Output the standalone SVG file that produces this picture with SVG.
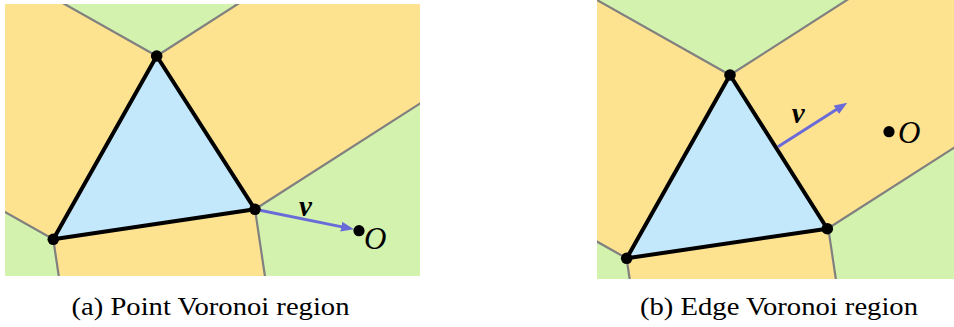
<svg xmlns="http://www.w3.org/2000/svg" width="954" height="327" viewBox="0 0 954 327">
<style>
.bg{fill:#fde28f}
.vreg{fill:#d3f2ad}
.vline{stroke:#808080;stroke-width:2.2;fill:none}
.tri{fill:#c3e8fc;stroke:#000;stroke-width:4;stroke-linejoin:round}
.dot{fill:#000}
.arrow{stroke:#6a6ad8;stroke-width:3;fill:none;marker-end:url(#ah)}
</style>
<defs>
<clipPath id="clipA"><rect x="5" y="4" width="415" height="272"/></clipPath>
<clipPath id="clipB"><rect x="597" y="0" width="357" height="279"/></clipPath>
<marker id="ah" markerUnits="userSpaceOnUse" viewBox="0 0 13 10" refX="2" refY="5" markerWidth="13" markerHeight="10" orient="auto">
<path d="M0,0 L13,5 L0,10 Z" fill="#6a6ad8"/>
</marker>
<g id="voronoi">
<rect class="bg" x="-700" y="-700" width="1600" height="1600"/>
<path class="vreg" d="M156.7,56 L-365.9,-238.6 L139,-560 L661.9,-268 Z"/>
<path class="vreg" d="M255,209.3 L760.2,-114.7 L1300,400 L343.2,802.7 Z"/>
<path class="vreg" d="M53.3,239.3 L-469.3,-55.3 L-600,600 L141.5,832.7 Z"/>
<path class="vline" d="M156.7,56 L-365.9,-238.6 M156.7,56 L661.9,-268 M255,209.3 L760.2,-114.7 M255,209.3 L343.2,802.7 M53.3,239.3 L-469.3,-55.3 M53.3,239.3 L141.5,832.7"/>
</g>
</defs>

<g id="panel-a">
<g id="regions-a" clip-path="url(#clipA)"><use href="#voronoi"/></g>
<g id="triangle-a"><path class="tri" d="M156.7,56 L53.3,239.3 L255,209.3 Z"/></g>
<g id="connectors-a"><path class="arrow" d="M255,209.3 L343.2,227.1"/></g>
<g id="vertex-a-top"><circle class="dot" cx="156.7" cy="56" r="5.8"/></g>
<g id="vertex-a-left"><circle class="dot" cx="53.3" cy="239.3" r="5.8"/></g>
<g id="vertex-a-right"><circle class="dot" cx="255" cy="209.3" r="5.8"/></g>
<g id="origin-a"><circle class="dot" cx="359" cy="230.7" r="5.6"/><text x="364" y="248.5" font-family="'Liberation Serif', 'Times New Roman', 'DejaVu Serif', serif" font-style="italic" font-size="31">O</text></g>
<text x="299" y="216" font-family="'Liberation Serif', 'Times New Roman', 'DejaVu Serif', serif" font-style="italic" font-weight="bold" font-size="29">v</text>
<text x="71.5" y="315" font-family="'Liberation Serif', 'Times New Roman', 'DejaVu Serif', serif" font-size="26" textLength="278" lengthAdjust="spacingAndGlyphs">(a) Point Voronoi region</text>
</g>

<g id="panel-b">
<g id="regions-b" clip-path="url(#clipB)"><g transform="translate(573.3,19)"><use href="#voronoi"/></g></g>
<g id="triangle-b"><path class="tri" d="M730,75 L626.7,258.3 L827.3,228.7 Z"/></g>
<g id="connectors-b"><path class="arrow" d="M778,146.7 L838,108.6"/></g>
<g id="vertex-b-top"><circle class="dot" cx="730" cy="75" r="5.8"/></g>
<g id="vertex-b-left"><circle class="dot" cx="626.7" cy="258.3" r="5.8"/></g>
<g id="vertex-b-right"><circle class="dot" cx="827.3" cy="228.7" r="5.8"/></g>
<g id="origin-b"><circle class="dot" cx="889" cy="131.7" r="5.6"/><text x="898" y="142.5" font-family="'Liberation Serif', 'Times New Roman', 'DejaVu Serif', serif" font-style="italic" font-size="31">O</text></g>
<text x="791.7" y="123" font-family="'Liberation Serif', 'Times New Roman', 'DejaVu Serif', serif" font-style="italic" font-weight="bold" font-size="29">v</text>
<text x="640" y="315" font-family="'Liberation Serif', 'Times New Roman', 'DejaVu Serif', serif" font-size="26" textLength="278" lengthAdjust="spacingAndGlyphs">(b) Edge Voronoi region</text>
</g>
</svg>
